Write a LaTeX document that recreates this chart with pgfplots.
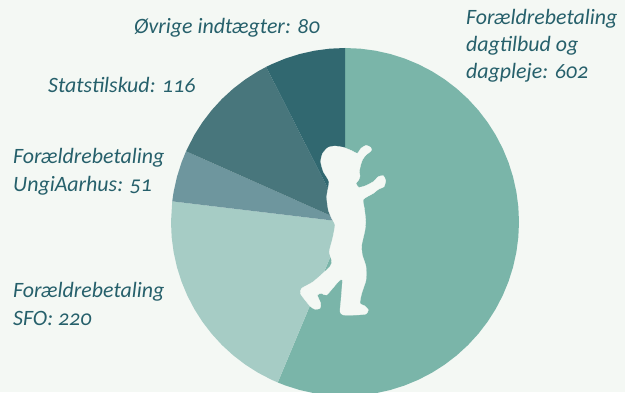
\documentclass[border=0pt]{standalone}
\usepackage{pgfplots}
\pgfplotsset{compat=1.18}
\usepackage{fontspec}
\setmainfont[Numbers=OldStyle]{Carlito}
\definecolor{bgc}{HTML}{F4F8F4}
\definecolor{txt}{HTML}{26606B}
\definecolor{sa}{HTML}{7AB5A9}
\definecolor{sb}{HTML}{A6CCC5}
\definecolor{sc}{HTML}{6E969E}
\definecolor{sd}{HTML}{48767C}
\definecolor{se}{HTML}{316870}
\begin{document}
\begin{tikzpicture}
\begin{axis}[
  scale only axis, width=625pt, height=392pt,
  xmin=-345, xmax=280, ymin=-170, ymax=222,
  axis lines=none, ticks=none,
  axis background/.style={fill=bgc},
  clip=true,
  nodes={inner sep=0pt, anchor=base west, text=txt, font=\fontsize{21.9}{21.9}\selectfont\itshape},
]
% Sectors in polar coordinates (angle, radius): 602, 220, 51, 116, 80
\addplot[fill=sa, draw=none, data cs=polar] coordinates {(0,0)(90,174)(85,174)(80,174)(75,174)(70,174)(65,174)(60,174)(55,174)(50,174)(45,174)(40,174)(35,174)(30,174)(25,174)(20,174)(15,174)(10,174)(5,174)(0,174)(-5,174)(-10,174)(-15,174)(-20,174)(-25,174)(-30,174)(-35,174)(-40,174)(-45,174)(-50,174)(-55,174)(-60,174)(-65,174)(-70,174)(-75,174)(-80,174)(-85,174)(-90,174)(-95,174)(-100,174)(-105,174)(-110,174)(-112.73,174)} -- cycle;
\addplot[fill=sb, draw=none, data cs=polar] coordinates {(0,0)(-112.73,174)(-115,174)(-120,174)(-125,174)(-130,174)(-135,174)(-140,174)(-145,174)(-150,174)(-155,174)(-160,174)(-165,174)(-170,174)(-175,174)(-180,174)(-186.82,174)} -- cycle;
\addplot[fill=sc, draw=none, data cs=polar] coordinates {(0,0)(-186.82,174)(-190,174)(-195,174)(-200,174)(-203.99,174)} -- cycle;
\addplot[fill=sd, draw=none, data cs=polar] coordinates {(0,0)(-203.99,174)(-210,174)(-215,174)(-220,174)(-225,174)(-230,174)(-235,174)(-240,174)(-243.06,174)} -- cycle;
\addplot[fill=se, draw=none, data cs=polar] coordinates {(0,0)(-243.06,174)(-245,174)(-250,174)(-255,174)(-260,174)(-265,174)(-270,174)} -- cycle;
% Child silhouette
\addplot[fill=bgc, draw=bgc, line width=0.3pt, smooth, tension=0.35,
  x filter/.code={\pgfmathparse{\pgfmathresult/3-65}},
  y filter/.code={\pgfmathparse{92-\pgfmathresult/3}}]
 coordinates {(165,48)(190,52)(215,62)(232,70)(243,55)(258,46)(272,52)(274,62)(258,75)(248,88)(242,105)(238,125)(240,138)(236,150)(228,160)(236,172)(255,168)(280,155)(295,140)(310,137)(317,152)(312,170)(295,178)(280,190)(250,208)(253,235)(257,270)(255,300)(245,345)(247,375)(258,410)(258,450)(245,490)(240,520)(255,528)(265,540)(258,552)(230,555)(190,555)(180,545)(183,510)(187,450)(175,455)(140,495)(125,490)(112,495)(122,520)(120,535)(105,538)(90,528)(62,492)(65,475)(100,455)(150,410)(155,392)(148,365)(158,325)(165,285)(155,265)(145,240)(140,200)(147,155)(130,125)(122,95)(128,70)(145,52)(165,48)};
\node at (axis cs:-211,189) {Øvrige indtægter: 80};
\node at (axis cs:-297,129) {Statstilskud: 116};
\node at (axis cs:-332,59) {Forældrebetaling};
\node at (axis cs:-332,31) {UngiAarhus: 51};
\node at (axis cs:-332,-75) {Forældrebetaling};
\node at (axis cs:-332,-103) {SFO: 220};
\node at (axis cs:121,197) {Forældrebetaling};
\node at (axis cs:121,170) {dagtilbud og};
\node at (axis cs:121,143) {dagpleje: 602};
\end{axis}
\end{tikzpicture}
\end{document}
